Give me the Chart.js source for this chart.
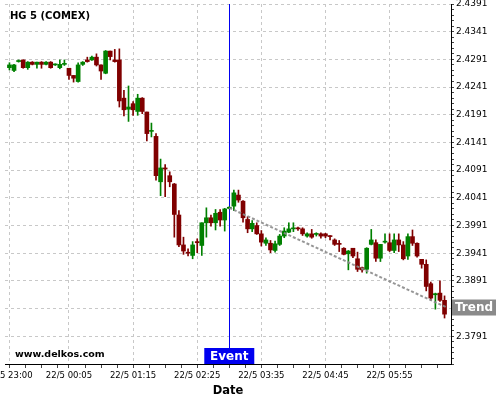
<!DOCTYPE html>
<html>

<head>
    <title>HG 5 (COMEX)</title>
    <script src="https://cdn.jsdelivr.net/npm/chart.js"></script>
    <style>
        html, body { margin: 0; padding: 0; background: #fff; }
        .chart-container { width: 500px; height: 400px; position: relative; }
    </style>
</head>

<body>
    <div class="chart-container">
        <canvas id="chart1"></canvas>
    </div>

    <script>
        // 5 minute candles, first one at 21/5 23:00
        const xTickLabels = ['21/5 23:00', '22/5 00:05', '22/5 01:15', '22/5 02:25', '22/5 03:35', '22/5 04:45', '22/5 05:55'];
        const yTickLabels = ['2.4391', '2.4341', '2.4291', '2.4241', '2.4191', '2.4141', '2.4091', '2.4041', '2.3991', '2.3941', '2.3891', '2.3791'];

        const opens = [
            2.4276, 2.4271, 2.4287, 2.4290, 2.4276, 2.4286, 2.4282, 2.4286, 2.4282, 2.4286,
            2.4281, 2.4276, 2.4282, 2.4275, 2.4262, 2.4251, 2.4282, 2.4290, 2.4290, 2.4295,
            2.4281, 2.4266, 2.4306, 2.4290, 2.4290, 2.4221, 2.4201, 2.4211, 2.4197, 2.4221,
            2.4196, 2.4161, 2.4152, 2.4070, 2.4095, 2.4081, 2.4066, 2.4010, 2.3956, 2.3942,
            2.3937, 2.3962, 2.3955, 2.3996, 2.4005, 2.3996, 2.4015, 2.4001, 2.4022, 2.4026,
            2.4046, 2.4035, 2.4002, 2.3985, 2.3991, 2.3976, 2.3959, 2.3959, 2.3946, 2.3957,
            2.3972, 2.3979, 2.3985, 2.3986, 2.3985, 2.3972, 2.3976, 2.3975, 2.3976, 2.3976,
            2.3972, 2.3965, 2.3958, 2.3950, 2.3940, 2.3950, 2.3931, 2.3915, 2.3912, 2.3957,
            2.3960, 2.3932, 2.3961, 2.3960, 2.3946, 2.3965, 2.3956, 2.3936, 2.3971, 2.3959,
            2.3930, 2.3921, 2.3886, 2.3866, 2.3869, 2.3856
        ];
        const highs = [
            2.4285, 2.4282, 2.4290, 2.4290, 2.4287, 2.4287, 2.4286, 2.4287, 2.4287, 2.4287,
            2.4283, 2.4290, 2.4290, 2.4275, 2.4262, 2.4285, 2.4287, 2.4295, 2.4297, 2.4301,
            2.4281, 2.4307, 2.4306, 2.4309, 2.4310, 2.4235, 2.4243, 2.4215, 2.4228, 2.4222,
            2.4196, 2.4176, 2.4157, 2.4111, 2.4101, 2.4088, 2.4067, 2.4018, 2.3970, 2.3949,
            2.3962, 2.3967, 2.3996, 2.4023, 2.4010, 2.4020, 2.4020, 2.4022, 2.4025, 2.4055,
            2.4055, 2.4036, 2.4007, 2.4000, 2.3996, 2.3982, 2.3969, 2.3964, 2.3963, 2.3975,
            2.3987, 2.3996, 2.3996, 2.3988, 2.3987, 2.3978, 2.3984, 2.3978, 2.3978, 2.3977,
            2.3973, 2.3967, 2.3964, 2.3951, 2.3946, 2.3950, 2.3943, 2.3916, 2.3951, 2.3984,
            2.3965, 2.3957, 2.3976, 2.3976, 2.3976, 2.3976, 2.3962, 2.3976, 2.3983, 2.3960,
            2.3930, 2.3929, 2.3889, 2.3869, 2.3891, 2.3864
        ];
        const lows = [
            2.4272, 2.4269, 2.4286, 2.4275, 2.4273, 2.4281, 2.4275, 2.4275, 2.4281, 2.4275,
            2.4280, 2.4274, 2.4280, 2.4255, 2.4250, 2.4250, 2.4280, 2.4286, 2.4289, 2.4279,
            2.4255, 2.4265, 2.4290, 2.4286, 2.4205, 2.4189, 2.4179, 2.4190, 2.4190, 2.4193,
            2.4144, 2.4151, 2.4073, 2.4045, 2.4043, 2.4061, 2.3970, 2.3953, 2.3939, 2.3936,
            2.3931, 2.3942, 2.3937, 2.3970, 2.3990, 2.3983, 2.3990, 2.3981, 2.4021, 2.4018,
            2.4033, 2.3997, 2.3978, 2.3980, 2.3975, 2.3954, 2.3955, 2.3942, 2.3943, 2.3955,
            2.3969, 2.3978, 2.3980, 2.3982, 2.3973, 2.3970, 2.3968, 2.3972, 2.3968, 2.3969,
            2.3965, 2.3955, 2.3944, 2.3938, 2.3911, 2.3933, 2.3908, 2.3907, 2.3905, 2.3956,
            2.3926, 2.3926, 2.3959, 2.3944, 2.3942, 2.3944, 2.3929, 2.3930, 2.3955, 2.3934,
            2.3914, 2.3873, 2.3856, 2.3840, 2.3854, 2.3824
        ];
        const closes = [
            2.4281, 2.4281, 2.4289, 2.4276, 2.4286, 2.4282, 2.4286, 2.4282, 2.4286, 2.4276,
            2.4282, 2.4282, 2.4283, 2.4262, 2.4257, 2.4281, 2.4286, 2.4287, 2.4295, 2.4281,
            2.4270, 2.4306, 2.4296, 2.4287, 2.4216, 2.4200, 2.4205, 2.4200, 2.4221, 2.4197,
            2.4157, 2.4162, 2.4081, 2.4095, 2.4093, 2.4070, 2.4011, 2.3956, 2.3945, 2.3941,
            2.3956, 2.3960, 2.3996, 2.4005, 2.3996, 2.4013, 2.4001, 2.4021, 2.4024, 2.4050,
            2.4037, 2.4005, 2.3985, 2.3995, 2.3976, 2.3961, 2.3965, 2.3947, 2.3958, 2.3972,
            2.3981, 2.3985, 2.3986, 2.3985, 2.3976, 2.3976, 2.3970, 2.3976, 2.3972, 2.3972,
            2.3971, 2.3957, 2.3957, 2.3939, 2.3945, 2.3936, 2.3912, 2.3911, 2.3950, 2.3965,
            2.3932, 2.3957, 2.3962, 2.3946, 2.3965, 2.3956, 2.3931, 2.3971, 2.3959, 2.3936,
            2.3921, 2.3881, 2.3860, 2.3868, 2.3856, 2.3831
        ];

        const eventIndex = 48;
        const trendX = [48, 95.5];
        const trendY = [2.4023, 2.3843];

        const UP = '#008000';
        const DOWN = '#800000';
        const FONT = '"DejaVu Sans", Verdana, sans-serif';

        // candle times as category names
        const times = opens.map((_, i) => {
            const m = 23 * 60 + 5 * i;
            const day = m >= 1440 ? 22 : 21;
            const mm = m % 1440;
            return day + '/5 ' + String(Math.floor(mm / 60)).padStart(2, '0') + ':' + String(mm % 60).padStart(2, '0');
        });

        const majorX = xTickLabels.map(l => times.indexOf(l));
        const xTicks = [];
        majorX.forEach(m => {
            xTicks.push(m);
            for (let q = 1; q <= 3; q++) {
                const v = m + q * 3.5;
                if (v < 96.4) xTicks.push(v);
            }
        });

        const yMin = 2.3741, yMax = 2.4391;
        const yTicks = [];
        for (let k = 0; k <= 65; k++) yTicks.push(+(yMin + k * 0.001).toFixed(4));
        const isMajorY = v => Math.round((v - 2.3791) * 10000) % 50 === 0;

        const colors = opens.map((o, i) => closes[i] >= o ? UP : DOWN);
        const bodies = opens.map((o, i) => ({ x: i, y: [o, closes[i]] }));
        const wicks = opens.map((o, i) => ({ x: i, y: [lows[i], highs[i]] }));

        const overlay = {
            id: 'overlay',
            beforeDatasetsDraw(chart) {
                const { ctx, chartArea, scales } = chart;
                const ex = Math.round(scales.x.getPixelForValue(eventIndex)) + 0.5;
                ctx.save();
                ctx.strokeStyle = '#0000f0';
                ctx.lineWidth = 1;
                ctx.beginPath();
                ctx.moveTo(ex, chartArea.top);
                ctx.lineTo(ex, chartArea.bottom - 16);
                ctx.stroke();
                ctx.restore();
            },
            afterDraw(chart) {
                const { ctx, chartArea, scales } = chart;
                ctx.save();
                ctx.fillStyle = '#000';
                ctx.textBaseline = 'alphabetic';
                ctx.textAlign = 'left';
                ctx.font = 'bold 10px ' + FONT;
                ctx.fillText('HG 5 (COMEX)', chartArea.left + 5, 19);
                ctx.font = 'bold 9.5px ' + FONT;
                ctx.fillText('www.delkos.com', chartArea.left + 10, chartArea.bottom - 7);

                // event tag
                const ex = scales.x.getPixelForValue(eventIndex);
                ctx.fillStyle = '#0000f0';
                ctx.fillRect(ex - 25, chartArea.bottom - 16, 50, 16);
                ctx.fillStyle = '#fff';
                ctx.font = 'bold 12px ' + FONT;
                ctx.textAlign = 'center';
                ctx.textBaseline = 'middle';
                ctx.fillText('Event', ex, chartArea.bottom - 7.5);

                // trend tag
                const ty = scales.y.getPixelForValue(trendY[trendY.length - 1]);
                ctx.fillStyle = '#8a8a8a';
                ctx.fillRect(chartArea.right + 1, ty - 8, 44, 16);
                ctx.fillStyle = '#fff';
                ctx.textAlign = 'left';
                ctx.fillText('Trend', chartArea.right + 4, ty + 0.5);
                ctx.restore();
            }
        };

        new Chart(document.getElementById('chart1'), {
            type: 'bar',
            data: {
                datasets: [{
                    type: 'line',
                    data: trendX.map((x, i) => ({ x: x, y: trendY[i] })),
                    borderColor: 'rgba(140,140,140,0.9)',
                    borderWidth: 2,
                    borderDash: [3, 2],
                    pointRadius: 0,
                    fill: false
                }, {
                    data: bodies,
                    backgroundColor: colors,
                    barThickness: 4,
                    minBarLength: 1,
                    grouped: false,
                    borderWidth: 0
                }, {
                    data: wicks,
                    backgroundColor: colors,
                    barThickness: 1,
                    grouped: false,
                    borderWidth: 0
                }]
            },
            options: {
                responsive: true,
                maintainAspectRatio: false,
                animation: false,
                layout: { padding: { left: 5, top: 4, right: 0, bottom: 0 } },
                plugins: {
                    legend: { display: false },
                    tooltip: { enabled: false }
                },
                scales: {
                    x: {
                        type: 'linear',
                        min: -0.97,
                        max: 96.41,
                        offset: false,
                        afterBuildTicks: s => { s.ticks = xTicks.map(v => ({ value: v })); },
                        afterFit: s => { s.height = 36; s.paddingLeft = 0; s.paddingRight = 0; },
                        ticks: {
                            autoSkip: false,
                            maxRotation: 0,
                            padding: 3,
                            color: '#000',
                            font: { family: FONT, size: 8.5 },
                            callback: v => majorX.includes(v) ? times[v] : ''
                        },
                        grid: {
                            offset: false,
                            color: c => majorX.includes(c.tick && c.tick.value) ? '#c8c8c8' : 'rgba(0,0,0,0)',
                            tickColor: '#444',
                            tickLength: 4
                        },
                        border: { display: true, color: '#000', dash: [3, 3] },
                        title: {
                            display: true,
                            text: 'Date',
                            color: '#000',
                            font: { family: FONT, size: 11.5, weight: 'bold' },
                            padding: { top: 0, bottom: 2 }
                        }
                    },
                    y: {
                        position: 'right',
                        min: yMin,
                        max: yMax,
                        afterBuildTicks: s => { s.ticks = yTicks.map(v => ({ value: v })); },
                        afterFit: s => { s.width = 49; s.paddingTop = 0; s.paddingBottom = 0; },
                        ticks: {
                            autoSkip: false,
                            padding: 2,
                            color: '#000',
                            font: { family: FONT, size: 9 },
                            callback: v => yTickLabels.find(t => Math.abs(parseFloat(t) - v) < 1e-6) || ''
                        },
                        grid: {
                            color: c => (c.tick && isMajorY(c.tick.value)) ? '#c8c8c8' : 'rgba(0,0,0,0)',
                            tickColor: '#444',
                            tickLength: 3
                        },
                        border: { display: true, color: '#000', dash: [3, 3] }
                    }
                }
            },
            plugins: [overlay]
        });
    </script>
</body>

</html>
